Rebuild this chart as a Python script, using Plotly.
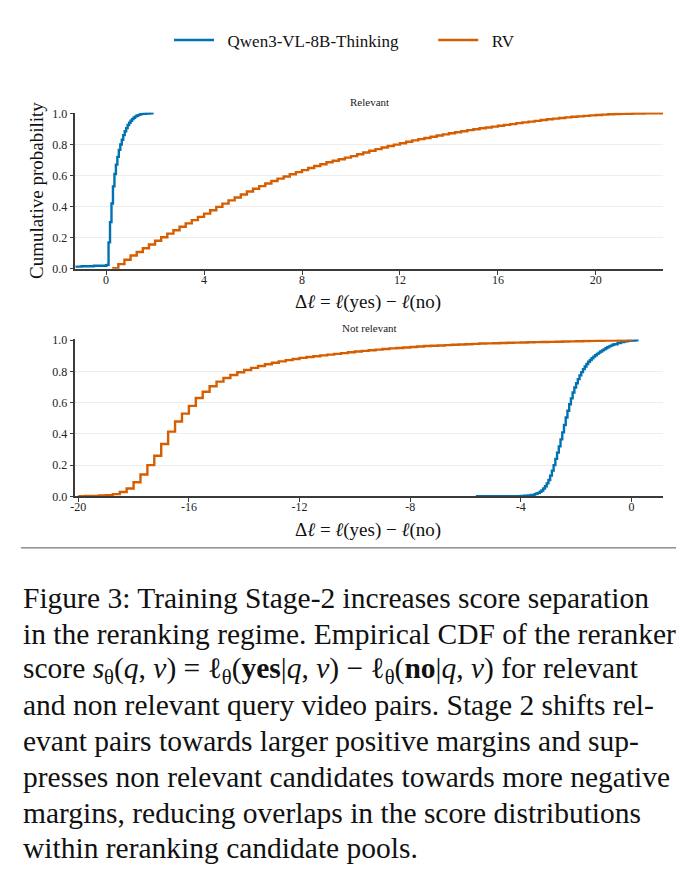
import plotly.graph_objects as go

W, H = 692, 880

# ---------------- data ----------------
series_names = ["Qwen3-VL-8B-Thinking", "RV"]
panel_titles = ["Relevant", "Not relevant"]

# Relevant panel, Qwen3-VL-8B-Thinking (ECDF step points)
rel_qwen_x = [-1.5, -1.0, -0.5, 0.0, 0.04, 0.1, 0.16, 0.22, 0.28, 0.34, 0.40, 0.46, 0.52,
              0.58, 0.64, 0.70, 0.76, 0.82, 0.88, 0.94, 1.00, 1.06, 1.12, 1.18, 1.24,
              1.30, 1.36, 1.42, 1.48, 1.56, 1.64, 1.72, 1.80, 1.94]
rel_qwen_y = [0.014, 0.016, 0.019, 0.023, 0.025, 0.17, 0.30, 0.42, 0.53, 0.61, 0.67, 0.72,
              0.765, 0.80, 0.83, 0.86, 0.885, 0.905, 0.925, 0.94, 0.953, 0.963, 0.972,
              0.979, 0.985, 0.989, 0.992, 0.995, 0.997, 0.998, 0.999, 0.9995, 1.0, 1.0]

# Relevant panel, RV
rel_rv_x = [0.25, 0.5, 0.75, 1.0, 1.25, 1.5, 1.75, 2.0, 2.25, 2.5, 2.75, 3.0, 3.25, 3.5,
            3.75, 4.0, 4.25, 4.5, 4.75, 5.0, 5.25, 5.5, 5.75, 6.0, 6.25, 6.5, 6.75, 7.0,
            7.25, 7.5, 7.75, 8.0, 8.25, 8.5, 8.75, 9.0, 9.25, 9.5, 9.75, 10.0, 10.25,
            10.5, 10.75, 11.0, 11.25, 11.5, 11.75, 12.0, 12.25, 12.5, 12.75, 13.0, 13.25,
            13.5, 13.75, 14.0, 14.25, 14.5, 14.75, 15.0, 15.25, 15.5, 15.75, 16.0, 16.25,
            16.5, 16.75, 17.0, 17.25, 17.5, 17.75, 18.0, 18.25, 18.5, 18.75, 19.0, 19.25,
            19.5, 19.75, 20.0, 20.25, 20.5, 20.75, 21.0, 21.25, 21.5, 21.75, 22.0, 22.75]
rel_rv_y = [0.004, 0.03, 0.058, 0.085, 0.108, 0.132, 0.156, 0.18, 0.203, 0.226, 0.248,
            0.27, 0.292, 0.313, 0.334, 0.355, 0.377, 0.398, 0.419, 0.44, 0.459, 0.478,
            0.497, 0.515, 0.532, 0.549, 0.565, 0.58, 0.594, 0.608, 0.622, 0.635, 0.648,
            0.661, 0.673, 0.685, 0.695, 0.705, 0.715, 0.725, 0.737, 0.748, 0.759, 0.77,
            0.78, 0.79, 0.799, 0.808, 0.817, 0.826, 0.834, 0.842, 0.85, 0.858, 0.865,
            0.872, 0.879, 0.885, 0.892, 0.898, 0.904, 0.909, 0.915, 0.92, 0.926, 0.931,
            0.937, 0.942, 0.947, 0.952, 0.957, 0.962, 0.966, 0.97, 0.974, 0.978, 0.981,
            0.984, 0.987, 0.99, 0.992, 0.994, 0.996, 0.997, 0.998, 0.999, 0.9995, 1.0, 1.0]

# Not relevant panel, Qwen3-VL-8B-Thinking
nrel_qwen_x = [-5.625, -5.0, -4.5, -4.0, -3.875, -3.75, -3.625, -3.5, -3.4375, -3.375,
               -3.3125, -3.25, -3.1875, -3.125, -3.0625, -3.0, -2.9375, -2.875, -2.8125,
               -2.75, -2.6875, -2.625, -2.5625, -2.5, -2.4375, -2.375, -2.3125, -2.25,
               -2.1875, -2.125, -2.0625, -2.0, -1.9375, -1.875, -1.8125, -1.75, -1.6875,
               -1.625, -1.5625, -1.5, -1.4375, -1.375, -1.3125, -1.25, -1.1875, -1.125,
               -1.0625, -1.0, -0.9375, -0.875, -0.8125, -0.75, -0.6875, -0.625, -0.5,
               -0.375, -0.25, -0.125, 0.0, 0.125, 0.26]
nrel_qwen_y = [0.0002, 0.0005, 0.001, 0.003, 0.004, 0.006, 0.009, 0.014, 0.018, 0.022,
               0.029, 0.037, 0.05, 0.065, 0.083, 0.105, 0.133, 0.165, 0.2, 0.24, 0.28,
               0.32, 0.365, 0.41, 0.457, 0.505, 0.548, 0.59, 0.628, 0.665, 0.697, 0.725,
               0.751, 0.775, 0.796, 0.815, 0.832, 0.848, 0.862, 0.874, 0.885, 0.895,
               0.904, 0.913, 0.921, 0.928, 0.935, 0.942, 0.949, 0.955, 0.961, 0.966,
               0.971, 0.975, 0.983, 0.989, 0.994, 0.997, 0.999, 1.0, 1.0]

# Not relevant panel, RV
nrel_rv_x = [-20.0, -19.75, -19.5, -19.25, -19.0, -18.75, -18.5, -18.25, -18.0, -17.75,
             -17.5, -17.25, -17.0, -16.75, -16.5, -16.25, -16.0, -15.75, -15.5, -15.25,
             -15.0, -14.75, -14.5, -14.25, -14.0, -13.75, -13.5, -13.25, -13.0, -12.75,
             -12.5, -12.25, -12.0, -11.75, -11.5, -11.25, -11.0, -10.75, -10.5, -10.25,
             -10.0, -9.75, -9.5, -9.25, -9.0, -8.75, -8.5, -8.25, -8.0, -7.75, -7.5,
             -7.25, -7.0, -6.75, -6.5, -6.25, -6.0, -5.75, -5.5, -5.25, -5.0, -4.75,
             -4.5, -4.25, -4.0, -3.75, -3.5, -3.25, -3.0, -2.75, -2.5, -2.25, -2.0,
             -1.75, -1.5, -1.25, -1.0, -0.75, -0.5, -0.25, 0.0]
nrel_rv_y = [0.001, 0.002, 0.003, 0.005, 0.008, 0.014, 0.028, 0.05, 0.09, 0.14, 0.2,
             0.26, 0.335, 0.415, 0.48, 0.53, 0.58, 0.63, 0.67, 0.705, 0.735, 0.758,
             0.778, 0.795, 0.81, 0.823, 0.835, 0.846, 0.856, 0.865, 0.873, 0.88, 0.887,
             0.893, 0.898, 0.903, 0.908, 0.913, 0.918, 0.923, 0.928, 0.932, 0.936, 0.94,
             0.944, 0.948, 0.951, 0.954, 0.957, 0.96, 0.963, 0.965, 0.967, 0.969, 0.971,
             0.973, 0.975, 0.977, 0.979, 0.98, 0.981, 0.983, 0.984, 0.985, 0.986, 0.987,
             0.988, 0.989, 0.99, 0.991, 0.992, 0.993, 0.994, 0.995, 0.996, 0.997, 0.998,
             0.998, 0.999, 0.9995, 1.0]

top_xticks = [0, 4, 8, 12, 16, 20]
top_xticklabels = ["0", "4", "8", "12", "16", "20"]
bot_xticks = [-20, -16, -12, -8, -4, 0]
bot_xticklabels = ["-20", "-16", "-12", "-8", "-4", "0"]
yticks = [0.0, 0.2, 0.4, 0.6, 0.8, 1.0]
yticklabels = ["0.0", "0.2", "0.4", "0.6", "0.8", "1.0"]

caption_lines = [
    "Figure 3: Training Stage-2 increases score separation",
    "in the reranking regime. Empirical CDF of the reranker",
    "score <i>s</i><sub>θ</sub>(<i>q</i>, <i>v</i>) = ℓ<sub>θ</sub>(<b>yes</b>|<i>q</i>, <i>v</i>) − "
    "ℓ<sub>θ</sub>(<b>no</b>|<i>q</i>, <i>v</i>) for relevant",
    "and non relevant query video pairs. Stage 2 shifts rel-",
    "evant pairs towards larger positive margins and sup-",
    "presses non relevant candidates towards more negative",
    "margins, reducing overlaps in the score distributions",
    "within reranking candidate pools.",
]

# ---------------- styling ----------------
FONT = "Liberation Serif"
BLUE = "#0072B2"
ORANGE = "#D55E00"
AX = "#3a3a3a"
NB = "\u00a0"


def px(xp):
    return xp / W


def py(yp):
    return 1 - yp / H


fig = go.Figure()

fig.add_trace(go.Scatter(x=rel_qwen_x, y=rel_qwen_y, mode="lines", line_shape="hv",
                         line=dict(color=BLUE, width=2.4),
                         name=NB * 2 + series_names[0] + NB * 7,
                         xaxis="x", yaxis="y", legendgroup="q"))
fig.add_trace(go.Scatter(x=rel_rv_x, y=rel_rv_y, mode="lines", line_shape="hv",
                         line=dict(color=ORANGE, width=2.4),
                         name=NB * 2 + series_names[1],
                         xaxis="x", yaxis="y", legendgroup="r"))
fig.add_trace(go.Scatter(x=nrel_qwen_x, y=nrel_qwen_y, mode="lines", line_shape="hv",
                         line=dict(color=BLUE, width=2.4), name=series_names[0],
                         xaxis="x2", yaxis="y2", legendgroup="q", showlegend=False))
fig.add_trace(go.Scatter(x=nrel_rv_x, y=nrel_rv_y, mode="lines", line_shape="hv",
                         line=dict(color=ORANGE, width=2.4), name=series_names[1],
                         xaxis="x2", yaxis="y2", legendgroup="r", showlegend=False))

xdom = [px(71), px(663)]
axis_common = dict(showline=True, linecolor=AX, linewidth=1.5, ticks="outside",
                   ticklen=4, tickwidth=1, tickcolor=AX, zeroline=False,
                   tickfont=dict(family=FONT, size=12, color="#222"))

fig.update_layout(
    width=W, height=H,
    margin=dict(l=0, r=0, t=0, b=0),
    paper_bgcolor="white", plot_bgcolor="white",
    font=dict(family=FONT, color="#111"),
    showlegend=True,
    legend=dict(orientation="h", x=px(342), xanchor="center", y=py(35), yanchor="middle",
                font=dict(family=FONT, size=17, color="#111"), itemwidth=40,
                tracegroupgap=0, bgcolor="rgba(0,0,0,0)"),
    xaxis=dict(domain=xdom, anchor="y", range=[-1.25, 22.75], tickvals=top_xticks,
               ticktext=top_xticklabels, showgrid=False, ticklabelstandoff=-5,
               **axis_common),
    yaxis=dict(domain=[py(266.7), py(108.2)], anchor="x", range=[0, 1.005],
               tickvals=yticks, ticktext=yticklabels, showgrid=True, gridcolor="#eeeeee",
               gridwidth=1, **axis_common),
    xaxis2=dict(domain=xdom, anchor="y2", range=[-20.1, 1.15], tickvals=bot_xticks,
                ticktext=bot_xticklabels, showgrid=False, ticklabelstandoff=-5,
                **axis_common),
    yaxis2=dict(domain=[py(497.7), py(338.5)], anchor="x2", range=[0, 1.005],
                tickvals=yticks, ticktext=yticklabels, showgrid=True, gridcolor="#eeeeee",
                gridwidth=1, **axis_common),
)

xlabel = "Δ<i>ℓ</i> = <i>ℓ</i>(yes) − <i>ℓ</i>(no)"
annotations = [
    dict(text=panel_titles[0], x=px(367), y=py(97), xref="paper", yref="paper",
         showarrow=False, font=dict(family=FONT, size=11, color="#222"),
         xanchor="center", yanchor="middle"),
    dict(text=panel_titles[1], x=px(367), y=py(327), xref="paper", yref="paper",
         showarrow=False, font=dict(family=FONT, size=11, color="#222"),
         xanchor="center", yanchor="middle"),
    dict(text=xlabel, x=px(366), y=py(300), xref="paper", yref="paper",
         showarrow=False, font=dict(family=FONT, size=19, color="#111"),
         xanchor="center", yanchor="middle"),
    dict(text=xlabel, x=px(366), y=py(532), xref="paper", yref="paper",
         showarrow=False, font=dict(family=FONT, size=19, color="#111"),
         xanchor="center", yanchor="middle"),
    dict(text="Cumulative probability", x=px(31), y=py(187), xref="paper", yref="paper",
         showarrow=False, textangle=-90, font=dict(family=FONT, size=19, color="#111"),
         xanchor="center", yanchor="middle"),
]

baseline0 = 611
for i, line in enumerate(caption_lines):
    annotations.append(dict(text=line, x=px(16), y=py(baseline0 + 36.3 * i - 10),
                            xref="paper", yref="paper", showarrow=False,
                            xanchor="left", yanchor="middle", align="left",
                            font=dict(family=FONT, size=29.5, color="#111")))

fig.update_layout(annotations=annotations)
fig.add_shape(type="line", xref="paper", yref="paper", x0=px(16), x1=px(676),
              y0=py(550), y1=py(550), line=dict(color="#555", width=1))

fig.write_html("out.html")
